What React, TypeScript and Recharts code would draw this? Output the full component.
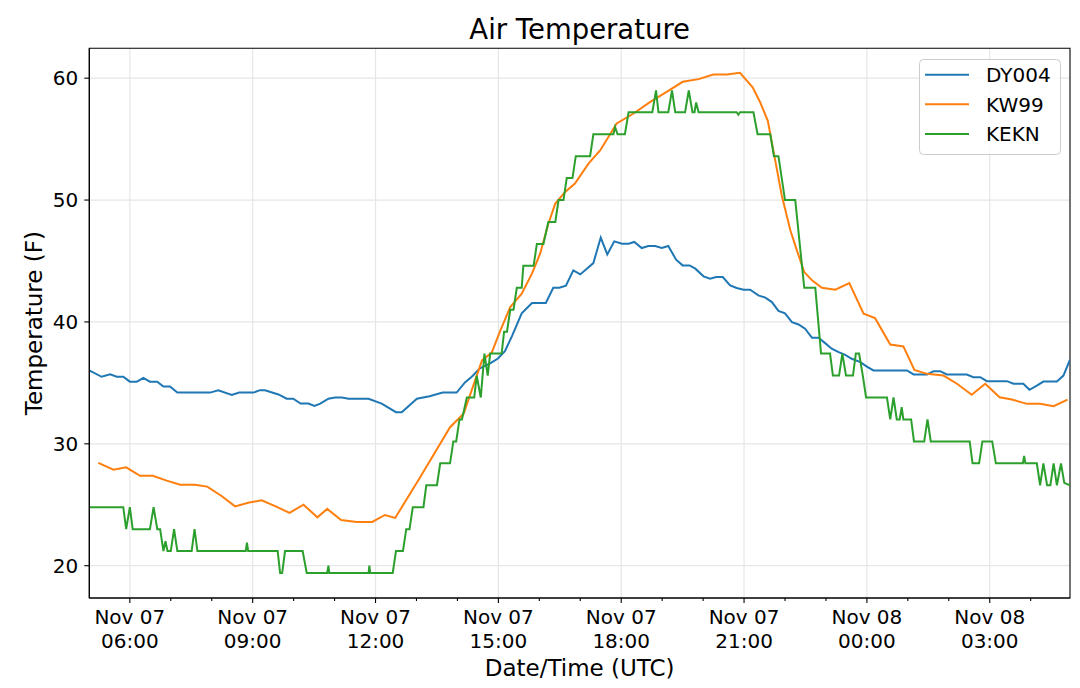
import React from "react";
import {
  LineChart,
  Line,
  XAxis,
  YAxis,
  CartesianGrid,
  Legend,
  ReferenceArea,
} from "recharts";

const FONT = '"DejaVu Sans", Verdana, sans-serif';

// times are hours since Nov 07 00:00 UTC, temperatures in F
const dyTimes = [
  5.02, 5.31, 5.52, 5.68, 5.84, 6.0, 6.17, 6.33, 6.49, 6.67, 6.82, 6.98, 7.16,
  7.96, 8.16, 8.49, 8.67, 9.02, 9.18, 9.3, 9.63, 9.83, 9.99, 10.17, 10.36,
  10.51, 10.65, 10.85, 11.01, 11.18, 11.34, 11.83, 12.15, 12.5, 12.64, 13.01,
  13.32, 13.64, 13.98, 14.19, 14.35, 14.55, 14.8, 14.99, 15.16, 15.34, 15.57,
  15.82, 16.16, 16.34, 16.49, 16.65, 16.83, 17.0, 17.16, 17.32, 17.5, 17.66,
  17.83, 18.02, 18.18, 18.32, 18.5, 18.66, 18.83, 18.99, 19.15, 19.34, 19.5,
  19.67, 19.81, 20.01, 20.17, 20.32, 20.48, 20.66, 20.82, 20.99, 21.15, 21.35,
  21.52, 21.68, 21.84, 22.0, 22.17, 22.33, 22.49, 22.66, 22.82, 22.98, 23.14,
  23.31, 23.47, 23.63, 23.84, 24.0, 24.16, 24.98, 25.14, 25.47, 25.63, 25.79,
  25.95, 26.44, 26.6, 26.77, 26.93, 27.42, 27.58, 27.82, 27.97, 28.15, 28.31,
  28.64, 28.8, 28.96,
];
const dyTemps = [
  36.0, 35.5, 35.7, 35.5, 35.5, 35.1, 35.1, 35.4, 35.1, 35.1, 34.7, 34.7, 34.2,
  34.2, 34.4, 34.0, 34.2, 34.2, 34.4, 34.4, 34.05, 33.7, 33.7, 33.3, 33.3,
  33.1, 33.3, 33.7, 33.8, 33.8, 33.7, 33.7, 33.3, 32.6, 32.6, 33.7, 33.9,
  34.2, 34.2, 35.06, 35.5, 36.2, 36.6, 37.0, 37.6, 38.9, 40.7, 41.55, 41.55,
  42.8, 42.8, 42.97, 44.23, 43.9, 44.37, 44.83, 46.92, 45.54, 46.61, 46.42,
  46.42, 46.56, 46.06, 46.23, 46.23, 46.06, 46.23, 45.11, 44.64, 44.64, 44.37,
  43.74, 43.55, 43.68, 43.68, 43.0, 42.78, 42.64, 42.64, 42.18, 41.99, 41.63,
  40.9, 40.7, 39.98, 39.79, 39.44, 38.7, 38.7, 38.26, 37.8, 37.52, 37.3,
  36.98, 36.7, 36.34, 36.02, 36.02, 35.69, 35.69, 35.96, 35.96, 35.69, 35.69,
  35.47, 35.47, 35.14, 35.14, 34.93, 34.93, 34.43, 34.78, 35.11, 35.11, 35.6,
  36.9,
];

const kwTimes = [
  5.23, 5.6, 5.91, 6.25, 6.56, 6.9, 7.23, 7.59, 7.89, 8.24, 8.57, 8.89, 9.22,
  9.59, 9.9, 10.24, 10.58, 10.82, 11.16, 11.54, 11.92, 12.23, 12.48, 13.09,
  13.82, 14.15, 14.6, 14.84, 15.05, 15.29, 15.57, 15.82, 16.02, 16.22, 16.39,
  16.63, 16.87, 17.2, 17.49, 17.89, 18.3, 18.71, 19.11, 19.5, 19.89, 20.25,
  20.58, 20.9, 21.21, 21.39, 21.58, 21.76, 21.92, 22.13, 22.29, 22.47, 22.66,
  22.9, 23.23, 23.57, 23.92, 24.2, 24.57, 24.89, 25.16, 25.47, 25.87, 26.2,
  26.56, 26.89, 27.24, 27.54, 27.91, 28.23, 28.56, 28.9,
];
const kwTemps = [
  28.43, 27.88, 28.07, 27.37, 27.37, 26.98, 26.65, 26.65, 26.49, 25.72, 24.87,
  25.17, 25.36, 24.82, 24.33, 25.01, 23.97, 24.66, 23.75, 23.59, 23.59, 24.16,
  23.92, 27.25, 31.36, 32.46, 36.84, 37.5, 39.3, 41.22, 42.31, 43.96, 45.6,
  48.06, 49.71, 50.67, 51.35, 52.99, 54.09, 56.28, 57.1, 58.05, 58.87, 59.7,
  59.92, 60.3, 60.3, 60.44, 59.25, 58.05, 56.5, 53.27, 50.4, 47.52, 45.87,
  44.09, 43.41, 42.81, 42.64, 43.19, 40.67, 40.31, 38.15, 37.99, 36.07, 35.74,
  35.6, 34.93, 34.02, 34.93, 33.82, 33.63, 33.28, 33.28, 33.09, 33.63,
];

const kekTimes = [
  5.02, 5.84, 5.91, 6.0, 6.07, 6.49, 6.58, 6.67, 6.74, 6.82, 6.87, 6.92, 7.0,
  7.08, 7.16, 7.51, 7.58, 7.65, 8.83, 8.86, 8.89, 9.61, 9.67, 9.72, 9.79,
  10.22, 10.32, 10.82, 10.85, 10.87, 11.83, 11.85, 11.87, 12.42, 12.5, 12.67,
  12.75, 12.83, 12.91, 13.17, 13.24, 13.5, 13.58, 13.82, 13.9, 13.97, 14.05,
  14.11, 14.23, 14.41, 14.47, 14.57, 14.66, 14.74, 14.8, 15.08, 15.14, 15.21,
  15.29, 15.37, 15.45, 15.57, 15.61, 15.86, 15.94, 16.1, 16.22, 16.39, 16.47,
  16.59, 16.67, 16.81, 16.89, 17.24, 17.32, 17.81, 17.85, 17.91, 18.09, 18.18,
  18.76, 18.85, 18.91, 19.15, 19.24, 19.32, 19.56, 19.65, 19.74, 19.79, 19.83,
  19.89, 20.82, 20.86, 20.9, 21.23, 21.33, 21.64, 21.73, 21.84, 22.0, 22.25,
  22.47, 22.74, 22.88, 23.1, 23.17, 23.32, 23.4, 23.49, 23.66, 23.73, 23.81,
  23.9, 23.98, 24.49, 24.57, 24.65, 24.73, 24.8, 24.85, 24.89, 25.08, 25.15,
  25.4, 25.48, 25.56, 26.51, 26.58, 26.74, 26.82, 27.06, 27.15, 27.81, 27.84,
  27.87, 28.15, 28.23, 28.31, 28.4, 28.48, 28.56, 28.64, 28.74, 28.82, 28.96,
];
const kekTemps = [
  24.8, 24.8, 23.0, 24.8, 23.0, 23.0, 24.8, 23.0, 23.0, 21.2, 22.0, 21.2, 21.2,
  23.0, 21.2, 21.2, 23.0, 21.2, 21.2, 21.9, 21.2, 21.2, 19.4, 19.4, 21.2,
  21.2, 19.4, 19.4, 20.0, 19.4, 19.4, 20.0, 19.4, 19.4, 21.2, 21.2,
  23.0, 23.0, 24.8, 24.8, 26.6, 26.6, 28.4, 28.4, 30.2, 30.2, 32.0,
  32.0, 33.8, 33.8, 35.6, 33.8, 37.4, 35.6, 37.4, 37.4, 39.2, 39.2,
  41.0, 41.0, 42.8, 42.8, 44.6, 44.6, 46.4, 46.4, 48.2, 48.2, 50.0,
  50.0, 51.8, 51.8, 53.6, 53.6, 55.4, 55.4, 56.0, 55.4, 55.4, 57.2,
  57.2, 59.0, 57.2, 57.2, 59.0, 57.2, 57.2, 59.0, 57.2, 57.2, 58.0,
  57.2, 57.2, 57.0, 57.2, 57.2, 55.4, 55.4, 53.6, 53.6, 50.0, 50.0,
  42.8, 42.8, 37.4, 37.4, 35.6, 35.6, 37.4, 35.6, 35.6, 37.4, 37.4,
  35.6, 33.8, 33.8, 32.0, 33.8, 32.0, 32.0, 33.0, 32.0, 32.0, 30.2,
  30.2, 32.0, 30.2, 30.2, 28.4, 28.4, 30.2, 30.2, 28.4, 28.4, 29.0,
  28.4, 28.4, 26.6, 28.4, 26.6, 26.6, 28.4, 26.6, 28.4, 26.8, 26.6,
];

const seriesNames = ["DY004", "KW99", "KEKN"];
const seriesColors = ["#1f77b4", "#ff7f0e", "#2ca02c"];

const hourTicks = [6, 7, 8, 9, 10, 11, 12, 13, 14, 15, 16, 17, 18, 19, 20, 21, 22, 23, 24, 25, 26, 27, 28];
const majorTicks = [6, 9, 12, 15, 18, 21, 24, 27];
const yTicks = [20, 30, 40, 50, 60];
const xDomain = [5.01, 28.96];
const yDomain = [17.35, 62.45];

const toRows = (times: number[], temps: number[]) =>
  times.map((t, i) => ({ time: t, temp: temps[i] }));

const seriesData = [
  toRows(dyTimes, dyTemps),
  toRows(kwTimes, kwTemps),
  toRows(kekTimes, kekTemps),
];

const dayLabel = (h: number) => (h >= 24 ? "Nov 08" : "Nov 07");
const hourLabel = (h: number) => String(Math.round(h) % 24).padStart(2, "0") + ":00";

function TimeTick(props: any) {
  const { x, y, payload } = props;
  const v = payload.value;
  const major = v % 3 === 0;
  return (
    <g>
      <line x1={x} x2={x} y1={y} y2={y + (major ? 5 : 3)} stroke="#000" strokeWidth={1.1} />
      {major && (
        <text textAnchor="middle" fontSize={20} fontFamily={FONT} fill="#000">
          <tspan x={x} y={y + 26}>{dayLabel(v)}</tspan>
          <tspan x={x} y={y + 50}>{hourLabel(v)}</tspan>
        </text>
      )}
    </g>
  );
}

function YLabel(props: any) {
  const vb = props.viewBox || {};
  const cy = vb.height ? vb.y + vb.height / 2 : 323;
  const cx = 42;
  return (
    <text
      x={cx}
      y={cy}
      transform={`rotate(-90 ${cx} ${cy})`}
      textAnchor="middle"
      fontSize={23}
      fontFamily={FONT}
      fill="#000"
    >
      Temperature (F)
    </text>
  );
}

function LegendBox() {
  return (
    <svg width={142} height={96} style={{ display: "block" }}>
      <rect x={0.5} y={0.5} width={141} height={95} rx={4} fill="#fff" fillOpacity={0.8} stroke="#cccccc" />
      {seriesNames.map((n, i) => {
        const cy = 15.7 + i * 29.65;
        return (
          <g key={n}>
            <line x1={6} x2={50} y1={cy} y2={cy} stroke={seriesColors[i]} strokeWidth={2} />
            <text x={67} y={cy + 7.2} fontSize={20} fontFamily={FONT} fill="#000">
              {n}
            </text>
          </g>
        );
      })}
    </svg>
  );
}

export default function App() {
  return (
    <div
      style={{
        position: "absolute",
        left: 0,
        top: 0,
        width: 1080,
        height: 688,
        background: "#fff",
        fontFamily: FONT,
      }}
    >
      <svg
        width={1080}
        height={60}
        style={{ position: "absolute", left: 0, top: 0, pointerEvents: "none" }}
      >
        <text x={579.7} y={39} textAnchor="middle" fontSize={27.5} fontFamily={FONT} fill="#000">
          Air Temperature
        </text>
      </svg>
      <LineChart
        width={1080}
        height={688}
        margin={{ top: 48.3, right: 10, bottom: 30, left: 29.3 }}
      >
        <CartesianGrid
          stroke="#e6e6e6"
          strokeWidth={1.2}
          verticalValues={majorTicks}
          horizontalValues={yTicks}
        />
        <XAxis
          dataKey="time"
          type="number"
          domain={xDomain}
          allowDataOverflow
          ticks={hourTicks}
          interval={0}
          height={60}
          tickSize={0}
          tickMargin={0}
          tickLine={false}
          tick={<TimeTick />}
          axisLine={{ stroke: "#000", strokeWidth: 1.1 }}
          label={{
            value: "Date/Time (UTC)",
            position: "bottom",
            offset: 1.5,
            fontSize: 23,
            fontFamily: FONT,
            fill: "#000",
          }}
        />
        <YAxis
          type="number"
          domain={yDomain}
          allowDataOverflow
          ticks={yTicks}
          width={60}
          tickSize={5}
          tickMargin={6}
          tick={{ fill: "#000", fontSize: 20, fontFamily: FONT }}
          tickLine={{ stroke: "#000", strokeWidth: 1.1 }}
          axisLine={{ stroke: "#000", strokeWidth: 1.1 }}
          label={<YLabel />}
        />
        <ReferenceArea
          x1={xDomain[0]}
          x2={xDomain[1]}
          y1={yDomain[0]}
          y2={yDomain[1]}
          fill="none"
          fillOpacity={0}
          stroke="#000"
          strokeWidth={1.1}
          ifOverflow="visible"
        />
        {seriesData.map((rows, i) => (
          <Line
            key={seriesNames[i]}
            data={rows}
            dataKey="temp"
            name={seriesNames[i]}
            type="linear"
            stroke={seriesColors[i]}
            strokeWidth={2}
            dot={false}
            activeDot={false}
            isAnimationActive={false}
          />
        ))}
        <Legend
          layout="vertical"
          align="center"
          verticalAlign="middle"
          content={() => <LegendBox />}
          wrapperStyle={{ left: 919, top: 59, width: 142, height: 96, margin: 0, padding: 0 }}
        />
      </LineChart>
    </div>
  );
}
